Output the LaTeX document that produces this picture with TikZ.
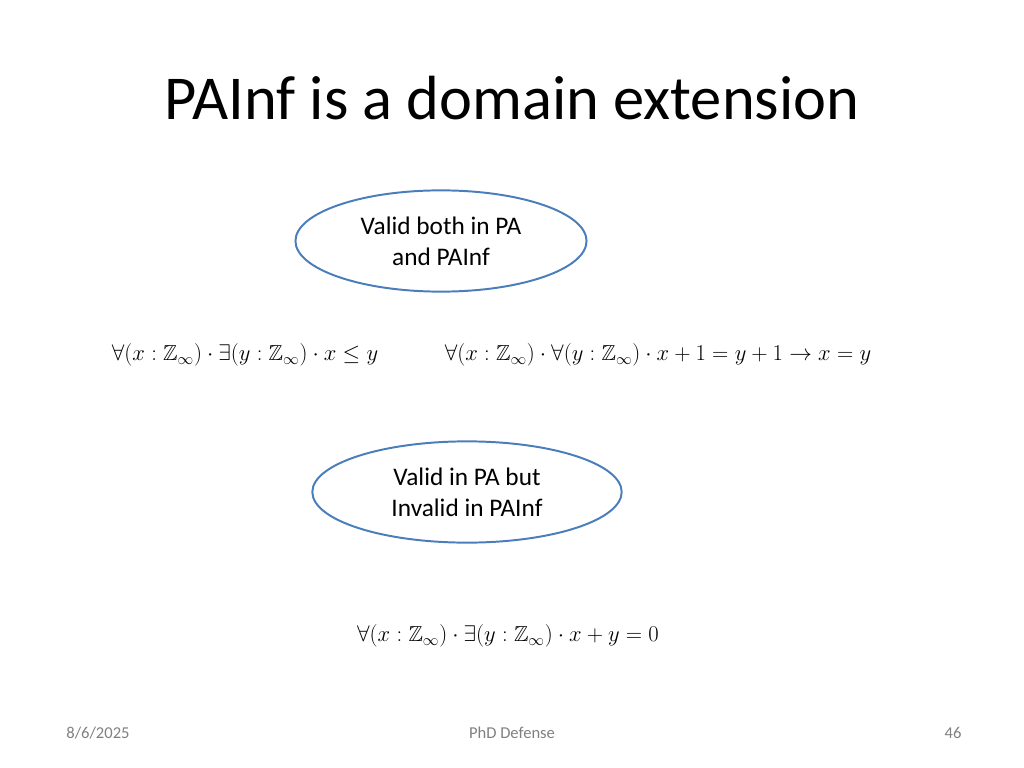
\documentclass[tikz,border=0pt]{standalone}
\usepackage{amssymb}
\usepackage{fontspec}
\setmainfont{Carlito}
\usetikzlibrary{shapes.geometric}
\definecolor{rimblue}{RGB}{74,126,187}
\tikzset{>=latex}

\begin{document}
\begin{tikzpicture}[x=0.025cm,y=-0.025cm]
			\tikzset{oval/.style = {ellipse,draw=rimblue,line width=1.4pt,align=center,font=\fontsize{18}{22}\selectfont,inner sep=0pt}}
			\tikzset{formula/.style = {font=\fontsize{16.6}{20}\selectfont,scale=0.93,transform shape}}
			\tikzset{foot/.style = {text=gray,font=\fontsize{11.8}{14}\selectfont}}

			\useasboundingbox (0,0) rectangle (1024,768);

			\node[font=\fontsize{44.4}{53}\selectfont] (title) at (512,98) {PAInf is a domain extension};

			\node[oval,minimum width=207pt,minimum height=72pt] (both) at (441,241) {Valid both in PA\\and PAInf};
			\node[oval,minimum width=220pt,minimum height=72pt] (painf) at (467,492) {Valid in PA but\\Invalid in PAInf};

			\node[formula] (f1) at (245,355) {$\forall(x:\mathbb{Z}_\infty)\cdot\exists(y:\mathbb{Z}_\infty)\cdot x\leq y$};
			\node[formula] (f2) at (658,355) {$\forall(x:\mathbb{Z}_\infty)\cdot\forall(y:\mathbb{Z}_\infty)\cdot x+1=y+1\rightarrow x=y$};
			\node[formula] (f3) at (508,636) {$\forall(x:\mathbb{Z}_\infty)\cdot\exists(y:\mathbb{Z}_\infty)\cdot x+y=0$};

			\node[foot] (date) at (98,733) {8/6/2025};
			\node[foot] (event) at (512,733) {PhD Defense};
			\node[foot] (page) at (953,733) {46};
		\end{tikzpicture}
\end{document}
